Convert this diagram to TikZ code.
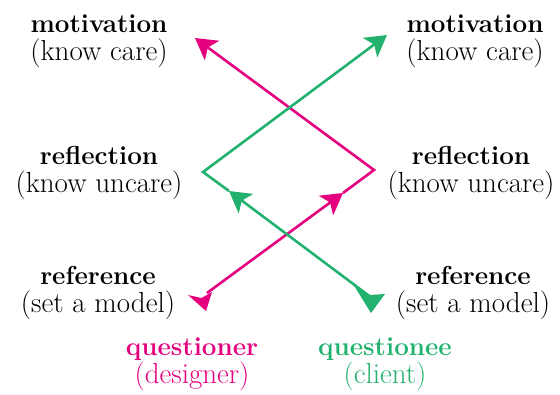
\documentclass[tikz,border=0pt]{standalone}
\usepackage{fontspec}
\usetikzlibrary{arrows.meta}
\definecolor{mag}{RGB}{228,0,127}
\definecolor{grn}{RGB}{34,177,110}
\newcommand\hd[1]{{\fontsize{26}{27.5}\selectfont\bfseries #1}}
\begin{document}
\begin{tikzpicture}[x=1pt,y=-1pt,
  lbl/.style={align=center,anchor=base,inner sep=0pt,font=\fontsize{29}{27.5}\selectfont},
  conn/.style={line width=2.6pt,line join=miter},
  tip/.style={-{Stealth[length=21pt,width=24pt,inset=5pt]}}]
\useasboundingbox (0,0) rectangle (560,394);
% labels (anchor = baseline of the last line)
\node[lbl] (lm) at (99,60) {\hd{motivation}\\(know care)};
\node[lbl] (lr) at (99,192) {\hd{reflection}\\(know uncare)};
\node[lbl] (lf) at (98,312) {\hd{reference}\\(set a model)};
\node[lbl] (rm) at (475,60) {\hd{motivation}\\(know care)};
\node[lbl] (rr) at (471,192) {\hd{reflection}\\(know uncare)};
\node[lbl] (rf) at (473,312) {\hd{reference}\\(set a model)};
\node[lbl,text=mag] (qr) at (192,383) {\hd{questioner}\\(designer)};
\node[lbl,text=grn] (qe) at (385,383) {\hd{questionee}\\(client)};
% magenta path
\coordinate (mS) at (207,293);
\coordinate (mM) at (343,193);
\coordinate (mV) at (374,170);
\coordinate (mE) at (195,38);
\draw[conn,mag,tip] (mS) -- (mM);
\draw[conn,mag,tip] (mM) -- (mV) -- (mE);
\fill[mag] (188,295) -- (201.5,298) -- (212,292) -- (206,311) -- cycle;
% green path
\coordinate (gS) at (372,298);
\coordinate (gM) at (229,191);
\coordinate (gV) at (203,172);
\coordinate (gE) at (387,35);
\draw[conn,grn,tip] (gS) -- (gM);
\draw[conn,grn,tip] (gM) -- (gV) -- (gE);
\fill[grn] (353,284) -- (369.5,295) -- (385,294) -- (371,313) -- cycle;
\end{tikzpicture}
\end{document}
